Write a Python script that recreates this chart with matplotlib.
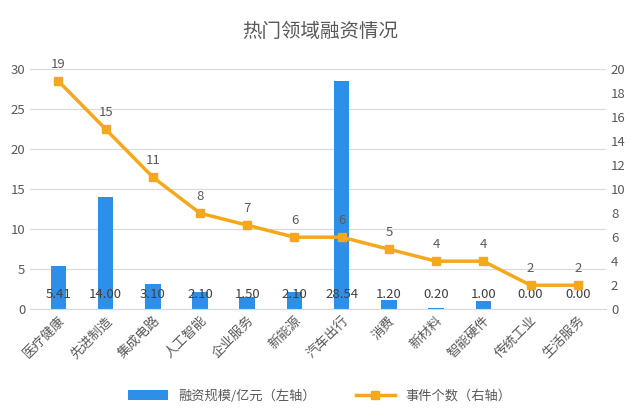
import numpy as np
import matplotlib.pyplot as plt

plt.rcParams['font.family'] = ['Noto Sans CJK SC', 'DejaVu Sans']

categories = ['医疗健康', '先进制造', '集成电路', '人工智能', '企业服务', '新能源',
              '汽车出行', '消费', '新材料', '智能硬件', '传统工业', '生活服务']
funding = [5.41, 14.00, 3.10, 2.10, 1.50, 2.10, 28.54, 1.20, 0.20, 1.00, 0.00, 0.00]
events = [19, 15, 11, 8, 7, 6, 6, 5, 4, 4, 2, 2]

bar_color = '#2E8FE8'
line_color = '#F5A81C'
text_color = '#595959'

fig = plt.figure(figsize=(6.4, 4.19), dpi=100)
ax = fig.add_axes([0.047, 0.262, 0.9, 0.573])
x = np.arange(len(categories))
ax.bar(x, funding, width=0.33, color=bar_color, label='融资规模/亿元（左轴）', zorder=2)
ax.set_ylim(0, 30)
ax.set_yticks(range(0, 31, 5))
ax.set_xlim(-0.6, len(categories) - 0.4)
ax.grid(axis='y', color='#D9D9D9', lw=0.8, zorder=0)
for v, xi in zip(funding, x):
    ax.text(xi, 1.9, f'{v:.2f}', ha='center', va='center', fontsize=9.5, color='#404040', zorder=5)
ax.set_xticks(x)
ax.set_xticklabels(categories, rotation=45, ha='right', rotation_mode='anchor', fontsize=9.5, color=text_color)

ax2 = ax.twinx()
ax2.plot(x, events, color=line_color, lw=2.5, marker='s', markersize=6, label='事件个数（右轴）', zorder=3)
ax2.set_ylim(0, 20)
ax2.set_yticks(range(0, 21, 2))
for v, xi in zip(events, x):
    ax2.text(xi, v + 1.4, str(v), ha='center', va='center', fontsize=9.5, color=text_color)

for a in (ax, ax2):
    for s in a.spines.values():
        s.set_visible(False)
    a.tick_params(length=0, labelsize=9.5, colors=text_color)
ax.spines['bottom'].set_visible(True)
ax.spines['bottom'].set_color('#D9D9D9')

fig.text(0.5, 0.925, '热门领域融资情况', ha='center', va='center', fontsize=14, color=text_color)
h1, l1 = ax.get_legend_handles_labels()
h2, l2 = ax2.get_legend_handles_labels()
fig.legend(h1 + h2, l1 + l2, loc='center', bbox_to_anchor=(0.5, 0.055), ncol=2, frameon=False,
           fontsize=9.5, labelcolor=text_color, columnspacing=3, handlelength=3)
fig.savefig('out.png', dpi=100)
